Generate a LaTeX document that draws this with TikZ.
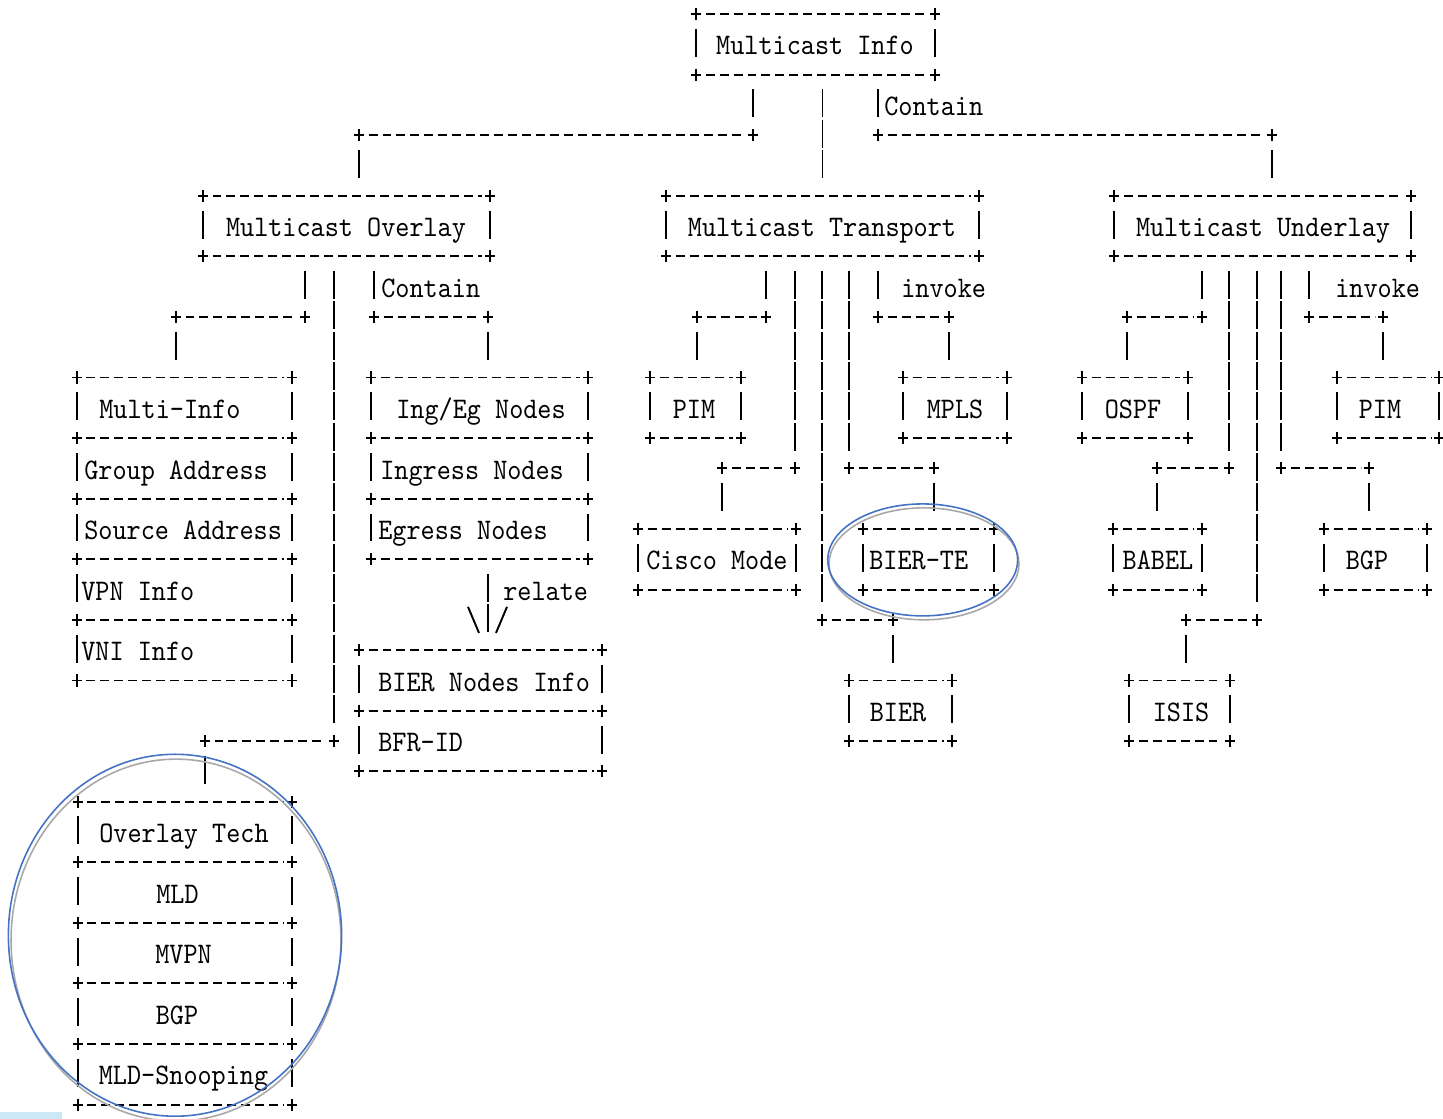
\documentclass[tikz,border=0pt]{standalone}
\usepackage{fontspec}
\usepackage{xcolor}
\usetikzlibrary{fit}
\newfontfamily\asciifont{lmmono10-regular.otf}[FakeStretch=0.9]
\definecolor{ringBlue}{RGB}{68,114,196}
\definecolor{ringGray}{RGB}{168,168,168}
\definecolor{selBlue}{RGB}{204,232,247}

\tikzset{
  boxcell/.style={inner sep=0pt, outer sep=0pt, draw=none},
  hdash/.style={line width=1.1pt, dash pattern=on 0.18cm off 0.10cm, shorten <=0.19cm, shorten >=0.17cm},
  vbar/.style={line width=1.1pt, dash pattern=on 0.56cm off 0.046cm, shorten <=0.296cm, shorten >=0.34cm},
  txt/.style={font=\asciifont\fontsize{17}{20}\selectfont, inner sep=0pt, anchor=base},
  txtw/.style={txt, anchor=base west},
  ring/.style={line width=0.9pt},
  pics/plus/.style={code={\draw[line width=1.1pt] (-5,0) -- (5,0) (0,-0.2) -- (0,0.2);}}
}

\newcommand{\asciiframe}[1]{%
  \draw[hdash] (#1.north west) -- (#1.north east);
  \draw[hdash] (#1.south west) -- (#1.south east);
  \draw[vbar] (#1.north west) -- (#1.south west);
  \draw[vbar] (#1.north east) -- (#1.south east);
  \foreach \c in {north west,north east,south west,south east} {\pic at (#1.\c) {plus};}
}

\begin{document}
\begin{tikzpicture}[x=0.02cm, y=-0.606cm]
  \useasboundingbox (0,-0.462) rectangle (1443,36.469);
  \fill[white] (0,-0.462) rectangle (1443,36.469);

  % Top
  \node[boxcell, fit={(696,0)(935,2)}] (info) {};
  \asciiframe{info}
  \node[txt] (infoT) at (815,1.35) {Multicast Info};

  % Second level
  \node[boxcell, fit={(203,6)(490,8)}] (ovl) {};
  \node[boxcell, fit={(666,6)(979,8)}] (trans) {};
  \node[boxcell, fit={(1114,6)(1411,8)}] (und) {};
  \foreach \n in {ovl,trans,und} {\asciiframe{\n}}
  \node[txt] (ovlT) at (346,7.35) {Multicast Overlay};
  \node[txt] (transT) at (822,7.35) {Multicast Transport};
  \node[txt] (undT) at (1263,7.35) {Multicast Underlay};

  \coordinate (a1) at (359,4); \coordinate (a2) at (753,4);
  \coordinate (b1) at (878,4); \coordinate (b2) at (1272,4);
  \draw[vbar] (info.south -| a2) -- (a2);
  \draw[hdash] (a1) -- (a2);
  \draw[vbar] (a1) -- (ovl.north -| a1);
  \draw[vbar] (info.south -| trans.north) -- (trans.north);
  \draw[vbar] (info.south -| b1) -- (b1);
  \draw[hdash] (b1) -- (b2);
  \draw[vbar] (b2) -- (und.north -| b2);
  \foreach \p in {a1,a2,b1,b2} {\pic at (\p) {plus};}
  \node[txtw] (containA) at (884,3.35) {Contain};

  % Overlay
  \foreach \n/\r in {multi/12,group/14,source/16,vpn/18,vni/20} {
    \node[boxcell, fit={(77,\r)(292,\r+2)}] (\n) {};
    \asciiframe{\n}
  }
  \node[txtw] (multiT) at (99,13.35) {Multi-Info};
  \node[txtw] (groupT) at (84,15.35) {Group Address};
  \node[txtw] (sourceT) at (84,17.35) {Source Address};
  \node[txtw] (vpnT) at (81,19.35) {VPN Info};
  \node[txtw] (vniT) at (81,21.35) {VNI Info};

  \foreach \n/\r in {ing/12,ingress/14,egress/16} {
    \node[boxcell, fit={(371,\r)(588,\r+2)}] (\n) {};
    \asciiframe{\n}
  }
  \node[txtw] (ingT) at (396,13.35) {Ing/Eg Nodes};
  \node[txtw] (ingressT) at (380,15.35) {Ingress Nodes};
  \node[txtw] (egressT) at (378,17.35) {Egress Nodes};

  \foreach \n/\r in {bnodes/21,bfr/23} {
    \node[boxcell, fit={(359,\r)(602,\r+2)}] (\n) {};
    \asciiframe{\n}
  }
  \node[txtw] (bnodesT) at (378,22.35) {BIER Nodes Info};
  \node[txtw] (bfrT) at (378,24.35) {BFR-ID};

  \foreach \n/\r in {otech/26,mld/28,mvpn/30,bgpa/32,snoop/34} {
    \node[boxcell, fit={(78,\r)(292,\r+2)}] (\n) {};
    \asciiframe{\n}
  }
  \node[txt] (otechT) at (184,27.35) {Overlay Tech};
  \node[txt] (mldT) at (177.5,29.35) {MLD};
  \node[txt] (mvpnT) at (183.5,31.35) {MVPN};
  \node[txt] (bgpaT) at (177,33.35) {BGP};
  \node[txt] (snoopT) at (183.5,35.35) {MLD-Snooping};

  \coordinate (c1) at (176,10); \coordinate (c2) at (305,10);
  \coordinate (d1) at (205,24); \coordinate (d2) at (334,24);
  \coordinate (e1) at (374,10); \coordinate (e2) at (488,10);
  \draw[vbar] (ovl.south -| c2) -- (c2);
  \draw[hdash] (c1) -- (c2);
  \draw[vbar] (c1) -- (multi.north -| c1);
  \draw[vbar] (ovl.south -| d2) -- (d2);
  \draw[hdash] (d1) -- (d2);
  \draw[vbar] (d1) -- (otech.north -| d1);
  \draw[vbar] (ovl.south -| e1) -- (e1);
  \draw[hdash] (e1) -- (e2);
  \draw[vbar] (e2) -- (ing.north -| e2);
  \foreach \p in {c1,c2,d1,d2,e1,e2} {\pic at (\p) {plus};}
  \node[txtw] (containB) at (381,9.35) {Contain};

  % relate arrow
  \coordinate (rel) at (488,20);
  \draw[vbar] (egress.south -| rel) -- (bnodes.north -| rel);
  \draw[line width=1.1pt] (rel) ++(-20,-0.43) -- ++(11,0.86);
  \draw[line width=1.1pt] (rel) ++(19,-0.43) -- ++(-11,0.86);
  \node[txtw] (relateT) at (503,19.35) {relate};

  % Transport
  \node[boxcell, fit={(650,12)(741,14)}] (pima) {};
  \node[boxcell, fit={(903,12)(1007,14)}] (mpls) {};
  \node[boxcell, fit={(638,17)(796,19)}] (cisco) {};
  \node[boxcell, fit={(863,17)(994,19)}] (bierte) {};
  \node[boxcell, fit={(849,22)(952,24)}] (bier) {};
  \foreach \n in {pima,mpls,cisco,bierte,bier} {\asciiframe{\n}}
  \node[txt] (pimaT) at (694,13.35) {PIM};
  \node[txt] (mplsT) at (955,13.35) {MPLS};
  \node[txtw] (ciscoT) at (646,18.35) {Cisco Mode};
  \node[txtw] (bierteT) at (869,18.35) {BIER-TE};
  \node[txt] (bierT) at (898,23.35) {BIER};

  \coordinate (f1) at (697,10); \coordinate (f2) at (766,10);
  \coordinate (g1) at (878,10); \coordinate (g2) at (949,10);
  \coordinate (h1) at (722,15); \coordinate (h2) at (795,15);
  \coordinate (i1) at (849,15); \coordinate (i2) at (934,15);
  \coordinate (j1) at (822,20); \coordinate (j2) at (893,20);
  \draw[vbar] (trans.south -| f2) -- (f2);
  \draw[hdash] (f1) -- (f2);
  \draw[vbar] (f1) -- (pima.north -| f1);
  \draw[vbar] (trans.south -| g1) -- (g1);
  \draw[hdash] (g1) -- (g2);
  \draw[vbar] (g2) -- (mpls.north -| g2);
  \draw[vbar] (trans.south -| h2) -- (h2);
  \draw[hdash] (h1) -- (h2);
  \draw[vbar] (h1) -- (cisco.north -| h1);
  \draw[vbar] (trans.south -| i1) -- (i1);
  \draw[hdash] (i1) -- (i2);
  \draw[vbar] (i2) -- (bierte.north -| i2);
  \draw[vbar] (trans.south -| j1) -- (j1);
  \draw[hdash] (j1) -- (j2);
  \draw[vbar] (j2) -- (bier.north -| j2);
  \foreach \p in {f1,f2,g1,g2,h1,h2,i1,i2,j1,j2} {\pic at (\p) {plus};}
  \node[txtw] (invokeA) at (901,9.35) {invoke};

  % Underlay
  \node[boxcell, fit={(1082,12)(1188,14)}] (ospf) {};
  \node[boxcell, fit={(1337,12)(1439,14)}] (pimb) {};
  \node[boxcell, fit={(1113,17)(1202,19)}] (babel) {};
  \node[boxcell, fit={(1324,17)(1427,19)}] (bgpb) {};
  \node[boxcell, fit={(1129,22)(1230,24)}] (isis) {};
  \foreach \n in {ospf,pimb,babel,bgpb,isis} {\asciiframe{\n}}
  \node[txt] (ospfT) at (1133,13.35) {OSPF};
  \node[txt] (pimbT) at (1380,13.35) {PIM};
  \node[txt] (babelT) at (1158,18.35) {BABEL};
  \node[txt] (bgpbT) at (1367,18.35) {BGP};
  \node[txt] (isisT) at (1181,23.35) {ISIS};

  \coordinate (k1) at (1127,10); \coordinate (k2) at (1202,10);
  \coordinate (l1) at (1309,10); \coordinate (l2) at (1383,10);
  \coordinate (m1) at (1157,15); \coordinate (m2) at (1229,15);
  \coordinate (n1) at (1281,15); \coordinate (n2) at (1369,15);
  \coordinate (o1) at (1186,20); \coordinate (o2) at (1257,20);
  \draw[vbar] (und.south -| k2) -- (k2);
  \draw[hdash] (k1) -- (k2);
  \draw[vbar] (k1) -- (ospf.north -| k1);
  \draw[vbar] (und.south -| l1) -- (l1);
  \draw[hdash] (l1) -- (l2);
  \draw[vbar] (l2) -- (pimb.north -| l2);
  \draw[vbar] (und.south -| m2) -- (m2);
  \draw[hdash] (m1) -- (m2);
  \draw[vbar] (m1) -- (babel.north -| m1);
  \draw[vbar] (und.south -| n1) -- (n1);
  \draw[hdash] (n1) -- (n2);
  \draw[vbar] (n2) -- (bgpb.north -| n2);
  \draw[vbar] (und.south -| o2) -- (o2);
  \draw[hdash] (o1) -- (o2);
  \draw[vbar] (o1) -- (isis.north -| o1);
  \foreach \p in {k1,k2,l1,l2,m1,m2,n1,n2,o1,o2} {\pic at (\p) {plus};}
  \node[txtw] (invokeB) at (1335,9.35) {invoke};

  % Rings
  \draw[ring, ringGray] (924,18.15) ellipse [x radius=1.9cm, y radius=1.12cm];
  \draw[ring, ringBlue] (922.7,18.02) ellipse [x radius=1.9cm, y radius=1.12cm];
  \draw[ring, ringGray] (176,30.57) ellipse [x radius=3.30cm, y radius=3.62cm];
  \draw[ring, ringBlue] (175,30.41) ellipse [x radius=3.333cm, y radius=3.62cm];
  \fill[selBlue] (0,36.23) rectangle (62,36.469);
\end{tikzpicture}
\end{document}
